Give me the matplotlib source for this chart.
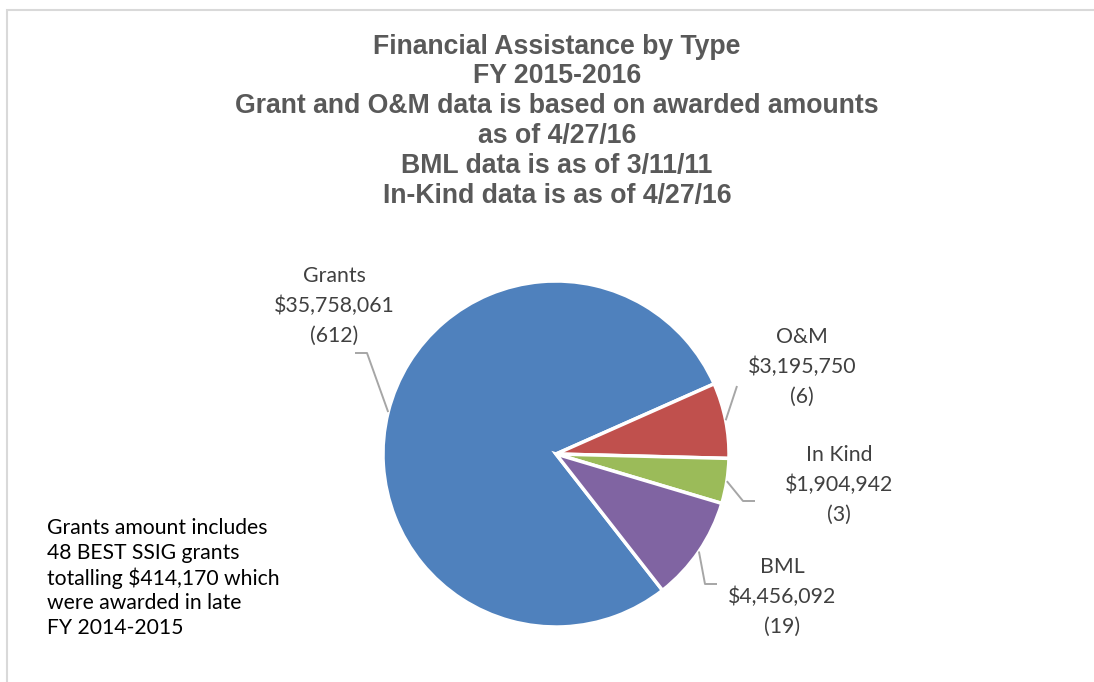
import matplotlib.pyplot as plt
from matplotlib.patches import Rectangle
import numpy as np

# data
categories = ["Grants", "O&M", "In Kind", "BML"]
amounts = [35758061, 3195750, 1904942, 4456092]
counts = [612, 6, 3, 19]
colors = ["#4F81BD", "#C0504D", "#9BBB59", "#8064A2"]

title_lines = [
    "Financial Assistance by Type",
    "FY 2015-2016",
    "Grant and O&M data is based on awarded amounts",
    "as of 4/27/16",
    "BML data is as of 3/11/11",
    "In-Kind data is as of 4/27/16",
]
note_lines = [
    "Grants amount includes",
    "48 BEST SSIG grants",
    "totalling $414,170 which",
    "were awarded in late",
    "FY 2014-2015",
]

W, H = 1094, 682


def Y(y):
    # pixel row (from top) -> data y
    return H - y


# label centres and leader elbows, in pixels from top-left
label_pos = {"Grants": (334, 306), "O&M": (802, 367), "In Kind": (839, 485), "BML": (782, 597)}
elbows = {
    "Grants": [(367, 353), (355, 353)],
    "O&M": [(737, 386)],
    "In Kind": [(743, 501), (755, 501)],
    "BML": [(705, 584), (717, 584)],
}

fig = plt.figure(figsize=(W / 100, H / 100), dpi=100)
ax = fig.add_axes([0, 0, 1, 1])

cx, cy, r = 556, 454, 173
wedges, _ = ax.pie(amounts, colors=colors, center=(cx, Y(cy)), radius=r,
                   startangle=308, counterclock=False,
                   wedgeprops=dict(edgecolor="white", linewidth=2.5))
ax.set_xlim(0, W)
ax.set_ylim(0, H)
ax.set_aspect("equal")
ax.axis("off")

# chart border (only top and left edges are inside the crop)
fig.patches.append(Rectangle((7 / W, -0.1), 1.2, Y(10) / H + 0.1, transform=fig.transFigure,
                             fill=False, edgecolor="#D9D9D9", linewidth=1.5))

# data labels with leader lines
for w, name, amt, n in zip(wedges, categories, amounts, counts):
    mid = np.deg2rad((w.theta1 + w.theta2) / 2)
    ex, ey = cx + r * np.cos(mid), Y(cy) + r * np.sin(mid)
    xs = [ex] + [p[0] for p in elbows[name]]
    ys = [ey] + [Y(p[1]) for p in elbows[name]]
    ax.plot(xs, ys, color="#A6A6A6", linewidth=1.4, solid_capstyle="butt")
    lx, ly = label_pos[name]
    ax.text(lx, Y(ly), f"{name}\n${amt:,.0f}\n({n})", ha="center", va="center",
            fontsize=15.3, family="Lato", color="#404040", linespacing=1.6)

ax.text(557, Y(121), "\n".join(title_lines), ha="center", va="center",
        fontsize=19.2, family="Liberation Sans", fontweight="bold",
        color="#595959", linespacing=1.19)

ax.text(47, Y(578), "\n".join(note_lines), ha="left", va="center",
        fontsize=15.2, family="Lato", color="black", linespacing=1.28)

fig.savefig("out.png", dpi=100)
